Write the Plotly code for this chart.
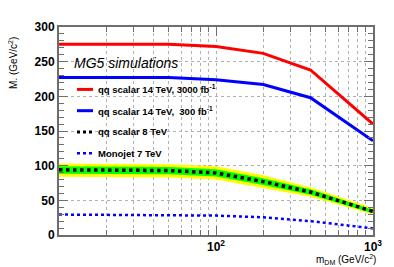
import plotly.graph_objects as go

# ---- data ----
mass = [10, 50, 100, 200, 400, 1000]
scalar14_3000 = [275, 275, 272, 262, 238, 160]
scalar14_300 = [227, 227, 224, 217, 198, 136]
scalar8 = [94, 93, 89.5, 77, 62, 34]
scalar8_yellow_lo = [84, 83, 80, 68, 55, 29.5]
scalar8_yellow_hi = [103, 102, 99, 86, 69, 39]
scalar8_green_lo = [88.5, 87.5, 84.5, 72, 58, 31.5]
scalar8_green_hi = [99, 98, 95, 82, 66, 36.5]
monojet7 = [29.5, 29, 28, 25.5, 20, 9.5]

legend_labels = [
    "qq scalar 14 TeV, 3000 fb<sup>-1</sup>",
    "qq scalar 14 TeV,  300 fb<sup>-1</sup>",
    "qq scalar 8 TeV",
    "Monojet 7 TeV",
]
x_tickvals = [10, 100, 1000]
x_ticktext = ["", "10<sup>2</sup>", "10<sup>3</sup>"]
x_minor = [20, 30, 40, 50, 60, 70, 80, 90, 200, 300, 400, 500, 600, 700, 800, 900]

FONT = "Liberation Sans, Arial, Helvetica, sans-serif"
OFF = 8  # browser body margin
W, H = 394 - OFF, 267 - OFF
# plot area in page pixels
L, R, T, B = 59, 373, 25, 235


def px(xp):
    return (xp - L) / (R - L)


def py(yp):
    return (B - yp) / (B - T)


fig = go.Figure()
# yellow band
fig.add_trace(go.Scatter(x=mass, y=scalar8_yellow_lo, mode="lines", line=dict(width=0, color="#ffff00"),
                         showlegend=False, hoverinfo="skip"))
fig.add_trace(go.Scatter(x=mass, y=scalar8_yellow_hi, mode="lines", line=dict(width=0, color="#ffff00"),
                         fill="tonexty", fillcolor="#ffff00", showlegend=False, hoverinfo="skip"))
# green band
fig.add_trace(go.Scatter(x=mass, y=scalar8_green_lo, mode="lines", line=dict(width=0, color="#00ff00"),
                         showlegend=False, hoverinfo="skip"))
fig.add_trace(go.Scatter(x=mass, y=scalar8_green_hi, mode="lines", line=dict(width=0, color="#00ff00"),
                         fill="tonexty", fillcolor="#00ff00", showlegend=False, hoverinfo="skip"))
# curves
fig.add_trace(go.Scatter(x=mass, y=scalar14_3000, mode="lines", line=dict(color="#ff0000", width=3),
                         name=legend_labels[0], showlegend=False))
fig.add_trace(go.Scatter(x=mass, y=scalar14_300, mode="lines", line=dict(color="#0000ff", width=3),
                         name=legend_labels[1], showlegend=False))
fig.add_trace(go.Scatter(x=mass, y=scalar8, mode="lines", line=dict(color="#000000", width=3.5, dash="dot"),
                         name=legend_labels[2], showlegend=False))
fig.add_trace(go.Scatter(x=mass, y=monojet7, mode="lines", line=dict(color="#0000ff", width=2.5, dash="dot"),
                         name=legend_labels[3], showlegend=False))

frame_col = "#6e6e6e"
grid_col = "#b0b0b0"

fig.update_xaxes(
    type="log", range=[1, 3],
    tickvals=x_tickvals, ticktext=x_ticktext,
    ticks="inside", ticklen=9, tickcolor=frame_col, tickwidth=1,
    showline=True, linecolor=frame_col, linewidth=2, mirror="ticks",
    showgrid=True, gridcolor=grid_col, griddash="dot", gridwidth=1,
    minor=dict(tickvals=x_minor, ticks="inside", ticklen=5, tickcolor=frame_col,
               showgrid=True, gridcolor=grid_col, griddash="dot", gridwidth=1),
    tickfont=dict(family=FONT, size=12, color="black", weight="bold"),
    zeroline=False,
)
fig.update_yaxes(
    range=[0, 300], dtick=50, tick0=0,
    ticks="inside", ticklen=9, tickcolor=frame_col, tickwidth=1,
    showline=True, linecolor=frame_col, linewidth=2, mirror="ticks",
    showgrid=True, gridcolor=grid_col, griddash="dot", gridwidth=1,
    minor=dict(dtick=10, ticks="inside", ticklen=5, tickcolor=frame_col, showgrid=False),
    tickfont=dict(family=FONT, size=12, color="black", weight="bold"),
    zeroline=False,
)

annotations = []
shapes = []
# axis titles
annotations.append(dict(xref="paper", yref="paper", x=px(378), y=py(260), xanchor="right", yanchor="middle",
                        text="m<sub>DM</sub> (GeV/c<sup>2</sup>)", showarrow=False,
                        font=dict(family=FONT, size=10, color="black")))
annotations.append(dict(xref="paper", yref="paper", x=px(13), y=py(33), xanchor="center", yanchor="top",
                        text="M. (GeV/c<sup>2</sup>)", textangle=-90, showarrow=False,
                        font=dict(family=FONT, size=10, color="black")))
# header
annotations.append(dict(xref="paper", yref="paper", x=px(72), y=py(61.5), xanchor="left", yanchor="middle",
                        text="<i>MG5 simulations</i>", showarrow=False,
                        font=dict(family=FONT, size=14, color="black")))
# legend entries
leg_y = [88, 109.5, 131, 152.5]
leg_styles = [
    dict(color="#ff0000", width=3, dash="solid"),
    dict(color="#0000ff", width=3, dash="solid"),
    dict(color="#000000", width=3, dash="dot"),
    dict(color="#0000ff", width=2.5, dash="dot"),
]
for yy, lab, st in zip(leg_y, legend_labels, leg_styles):
    shapes.append(dict(type="line", xref="paper", yref="paper", x0=px(77), x1=px(93), y0=py(yy), y1=py(yy),
                       line=st))
    annotations.append(dict(xref="paper", yref="paper", x=px(96), y=py(yy), xanchor="left", yanchor="middle",
                            text=lab, showarrow=False,
                            font=dict(family=FONT, size=9.5, color="black", weight="bold")))

fig.update_layout(
    width=W, height=H,
    margin=dict(l=L - OFF, r=W - (R - OFF), t=T - OFF, b=H - (B - OFF), pad=0),
    paper_bgcolor="white", plot_bgcolor="white",
    showlegend=False,
    annotations=annotations, shapes=shapes,
)

fig.write_html("out.html")
